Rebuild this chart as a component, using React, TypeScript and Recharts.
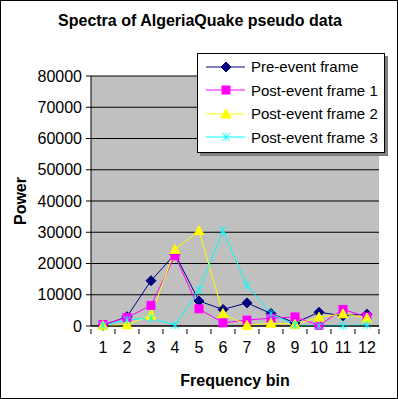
import { LineChart, Line, XAxis, YAxis, CartesianGrid, Legend, Label } from 'recharts';

const bins = ['1', '2', '3', '4', '5', '6', '7', '8', '9', '10', '11', '12'];
const preEvent = [200, 3000, 14500, 23000, 8000, 5300, 7400, 4000, 1000, 4400, 3300, 3800];
const postEvent1 = [500, 2700, 6600, 22500, 5500, 1000, 1900, 2500, 2900, 200, 5300, 2900];
const postEvent2 = [100, 400, 3400, 24500, 30500, 4000, 200, 900, 500, 2800, 3900, 2500];
const postEvent3 = [200, 2000, 2500, 300, 11500, 30500, 13000, 4000, 300, 0, 100, 400];
const yTicks = [0, 10000, 20000, 30000, 40000, 50000, 60000, 70000, 80000];

const FONT = '"Liberation Sans", Arial, sans-serif';

const data = bins.map((b, i) => ({
  bin: b,
  pre: preEvent[i],
  p1: postEvent1[i],
  p2: postEvent2[i],
  p3: postEvent3[i],
}));

const SERIES = [
  { key: 'pre', name: 'Pre-event frame', color: '#000080', shape: 'diamond' },
  { key: 'p1', name: 'Post-event frame 1', color: '#ff00ff', shape: 'square' },
  { key: 'p2', name: 'Post-event frame 2', color: '#ffff00', shape: 'triangle' },
  { key: 'p3', name: 'Post-event frame 3', color: '#00ffff', shape: 'cross' },
];

function Marker({ cx, cy, shape, color }: { cx: number; cy: number; shape: string; color: string }) {
  if (cx == null || cy == null) return null;
  if (shape === 'diamond') {
    return <polygon points={`${cx},${cy - 5} ${cx + 5},${cy} ${cx},${cy + 5} ${cx - 5},${cy}`} fill={color} stroke={color} />;
  }
  if (shape === 'square') {
    return <rect x={cx - 4} y={cy - 4} width={8} height={8} fill={color} stroke={color} />;
  }
  if (shape === 'triangle') {
    return <polygon points={`${cx},${cy - 5} ${cx + 5},${cy + 4} ${cx - 5},${cy + 4}`} fill={color} stroke={color} />;
  }
  return (
    <g stroke={color} strokeWidth={1}>
      <line x1={cx - 4} y1={cy - 4} x2={cx + 4} y2={cy + 4} />
      <line x1={cx - 4} y1={cy + 4} x2={cx + 4} y2={cy - 4} />
      <line x1={cx} y1={cy - 4} x2={cx} y2={cy + 4} />
    </g>
  );
}

// labels sit at category centres, tick marks at the category boundaries
function XTick(props: any) {
  const { x, y, payload, index } = props;
  const half = 12;
  return (
    <g>
      <line x1={x - half} y1={y - 5} x2={x - half} y2={y} stroke="#000" />
      {index === bins.length - 1 && <line x1={x + half} y1={y - 5} x2={x + half} y2={y} stroke="#000" />}
      <text x={x} y={y + 19} textAnchor="middle" fontSize={16} fill="#000" fontFamily={FONT}>
        {payload.value}
      </text>
    </g>
  );
}

function LegendBox() {
  return (
    <div
      style={{
        width: 186,
        height: 97,
        background: '#fff',
        border: '1px solid #000',
        boxShadow: '3px 3px 0 #808080',
        fontFamily: FONT,
        fontSize: 15,
        color: '#000',
        paddingTop: 1,
        boxSizing: 'content-box',
      }}
    >
      {SERIES.map((s) => (
        <div key={s.key} style={{ display: 'flex', alignItems: 'center', height: 23.5 }}>
          <svg width={53} height={14}>
            <line x1={8} y1={7} x2={47} y2={7} stroke={s.color} strokeWidth={1} />
            <Marker cx={28} cy={7} shape={s.shape} color={s.color} />
          </svg>
          <span style={{ whiteSpace: 'nowrap' }}>{s.name}</span>
        </div>
      ))}
    </div>
  );
}

export default function App() {
  return (
    <div
      style={{
        position: 'absolute',
        left: 0,
        top: 0,
        width: 398,
        height: 399,
        border: '1px solid #000',
        boxSizing: 'border-box',
        background: '#fff',
        fontFamily: FONT,
      }}
    >
      <div
        style={{
          position: 'absolute',
          top: 11,
          left: 0,
          width: 398,
          textAlign: 'center',
          fontSize: 16,
          fontWeight: 'bold',
          fontFamily: FONT,
        }}
      >
        Spectra of AlgeriaQuake pseudo data
      </div>
      <div style={{ position: 'absolute', left: -1, top: -1 }}>
        <LineChart width={398} height={399} data={data} margin={{ top: 76, right: 19, left: 0, bottom: 43 }}>
          <CartesianGrid vertical={false} stroke="#000" fill="#c0c0c0" />
          <XAxis
            dataKey="bin"
            height={30}
            padding={{ left: 12, right: 12 }}
            axisLine={{ stroke: '#000' }}
            tickLine={false}
            tick={<XTick />}
            interval={0}
          >
            <Label
              content={() => (
                <text x={235} y={386} textAnchor="middle" fontSize={16} fontWeight="bold" fontFamily={FONT} fill="#000">
                  Frequency bin
                </text>
              )}
            />
          </XAxis>
          <YAxis
            width={91}
            domain={[0, 80000]}
            ticks={yTicks}
            interval={0}
            axisLine={{ stroke: '#000' }}
            tickLine={{ stroke: '#000' }}
            tickSize={5}
            tickMargin={4}
            tick={{ fontSize: 16, fill: '#000', fontFamily: FONT }}
          >
            <Label
              content={() => (
                <text
                  x={26}
                  y={201}
                  transform="rotate(-90 26 201)"
                  textAnchor="middle"
                  fontSize={16}
                  fontWeight="bold"
                  fontFamily={FONT}
                  fill="#000"
                >
                  Power
                </text>
              )}
            />
          </YAxis>
          <YAxis yAxisId="r" orientation="right" width={0} tick={false} tickLine={false} axisLine={{ stroke: '#808080' }} />
          <Legend
            layout="vertical"
            verticalAlign="middle"
            align="center"
            wrapperStyle={{ top: 53, left: 197, width: 190 }}
            content={() => <LegendBox />}
          />
          {SERIES.map((s) => (
            <Line
              key={s.key}
              type="linear"
              dataKey={s.key}
              name={s.name}
              stroke={s.color}
              strokeWidth={1}
              isAnimationActive={false}
              dot={(p: any) => <Marker key={`${s.key}-${p.index}`} cx={p.cx} cy={p.cy} shape={s.shape} color={s.color} />}
              activeDot={false}
            />
          ))}
        </LineChart>
      </div>
    </div>
  );
}
